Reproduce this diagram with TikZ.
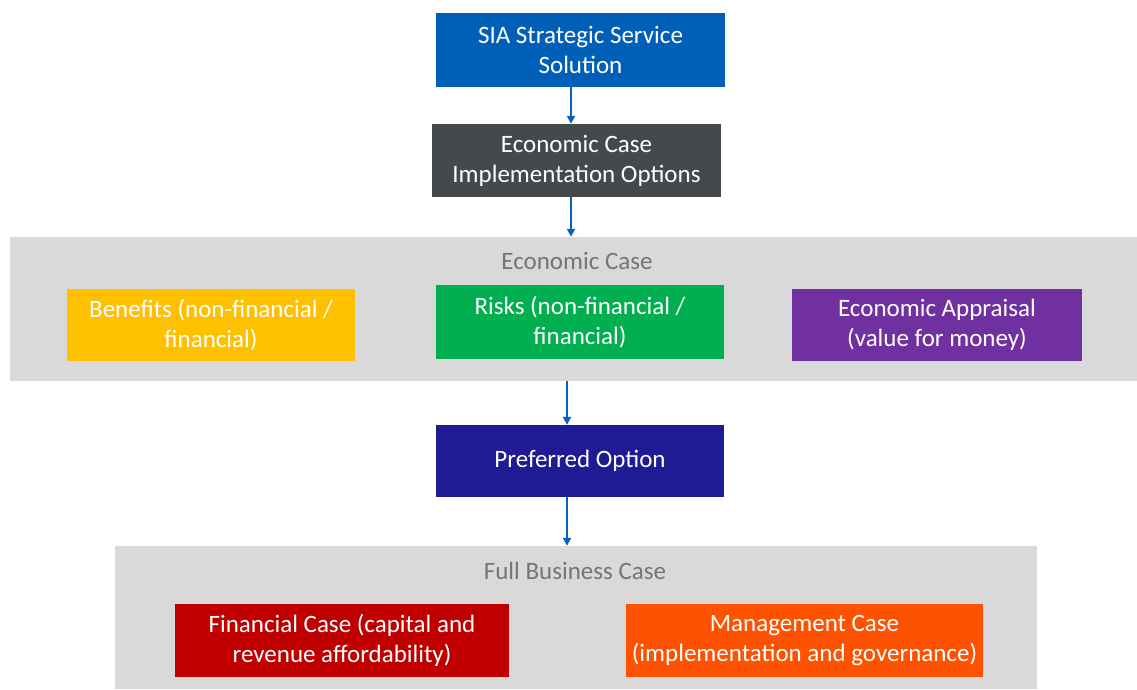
\documentclass[tikz,border=0pt]{standalone}
\usepackage{fontspec}
\setmainfont{Carlito}
\usetikzlibrary{arrows.meta}

\definecolor{siablue}{HTML}{0060B8}
\definecolor{optgray}{HTML}{45494C}
\definecolor{bandgray}{HTML}{D9D9D9}
\definecolor{labelgray}{HTML}{757575}
\definecolor{benyellow}{HTML}{FFC000}
\definecolor{riskgreen}{HTML}{00B050}
\definecolor{apppurple}{HTML}{7030A0}
\definecolor{prefnavy}{HTML}{1E1B94}
\definecolor{finred}{HTML}{C00000}
\definecolor{mgtorange}{HTML}{FF5200}
\definecolor{arrowblue}{HTML}{0863C0}

\begin{document}
\begin{tikzpicture}[x=1pt,y=-1pt,
    box/.style={rectangle,inner sep=0pt,text=white,align=center,
      font=\fontsize{25}{30}\selectfont},
    band/.style={rectangle,inner sep=0pt,fill=bandgray},
    bandlabel/.style={text=labelgray,font=\fontsize{25}{30}\selectfont},
    flow/.style={draw=arrowblue,line width=2pt,-{Triangle[width=8pt,length=8pt]}}]
  \useasboundingbox (0,0) rectangle (1137,689);

  % grey bands behind the two case groups
  \node[band,minimum width=1127pt,minimum height=144pt] (econ) at (573.5,309) {};
  \node[band,minimum width=922pt,minimum height=143pt] (fbc) at (576,617.5) {};
  \node[bandlabel] (econlbl) at (577,261) {Economic Case};
  \node[bandlabel] (fbclbl) at (575,571) {Full Business Case};

  % boxes
  \node[box,fill=siablue,minimum width=289pt,minimum height=74pt] (sia) at (580.5,50)
    {SIA Strategic Service\\Solution};
  \node[box,fill=optgray,minimum width=289pt,minimum height=73pt] (opts) at (576.5,160.5)
    {Economic Case\\Implementation Options};
  \node[box,fill=benyellow,minimum width=288pt,minimum height=72pt] (ben) at (211,325)
    {Benefits (non-financial /\\financial)};
  \node[box,fill=riskgreen,minimum width=288pt,minimum height=74pt] (risk) at (580,322)
    {Risks (non-financial /\\financial)};
  \node[box,fill=apppurple,minimum width=290pt,minimum height=72pt] (appr) at (937,325)
    {Economic Appraisal\\(value for money)};
  \node[box,fill=prefnavy,minimum width=288pt,minimum height=72pt] (pref) at (580,461)
    {Preferred Option};
  \node[box,fill=finred,minimum width=334pt,minimum height=73pt] (fin) at (342,640.5)
    {Financial Case (capital and\\revenue affordability)};
  \node[box,fill=mgtorange,minimum width=357pt,minimum height=73pt] (mgt) at (804.5,640.5)
    {Management Case\\(implementation and governance)};

  % connectors
  \begin{scope}[flow]
    \draw ([xshift=-9.5pt]sia.south) to ([xshift=-5.5pt]opts.north);
    \draw ([xshift=-5.5pt]opts.south) to ([xshift=-2.5pt]econ.north);
    \draw ([xshift=-6.5pt]econ.south) to ([xshift=-13pt]pref.north);
    \draw ([xshift=-13pt]pref.south) to ([xshift=-9pt]fbc.north);
  \end{scope}
\end{tikzpicture}
\end{document}
